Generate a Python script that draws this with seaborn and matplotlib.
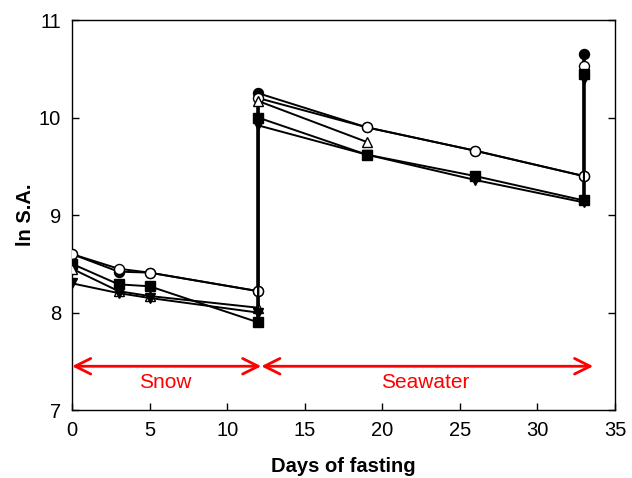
import numpy as np
import pandas as pd
import matplotlib
matplotlib.use("Agg")
import matplotlib.pyplot as plt
import seaborn as sns

# days of fasting; day 12 and 33 appear twice (before / after transfer)
days = [0, 3, 5, 12, 12, 19, 26, 33, 33]
days_tri = [0, 3, 5, 12, 12, 19]

filled_circle = [8.60, 8.42, 8.41, 8.22, 10.25, 9.90, 9.66, 9.40, 10.65]
open_circle = [8.60, 8.45, 8.41, 8.22, 10.20, 9.90, 9.66, 9.40, 10.53]
filled_square = [8.50, 8.29, 8.27, 7.90, 10.00, 9.62, 9.40, 9.15, 10.45]
open_triangle = [8.45, 8.22, 8.17, 8.05, 10.17, 9.75]
filled_tri_down = [8.30, 8.20, 8.15, 8.00, 9.92, 9.62, 9.36, 9.13, 10.40]

sns.set_theme(style="ticks")
plt.rcParams['font.family'] = ['Liberation Sans', 'DejaVu Sans']
plt.rcParams['text.color'] = 'black'
plt.rcParams['axes.labelcolor'] = 'black'

fig = plt.figure(figsize=(6.32, 4.78), dpi=100)
ax = fig.add_axes([0.114, 0.142, 0.859, 0.816])

series = [
    (days, filled_circle, 'o', 'black'),
    (days, open_circle, 'o', 'white'),
    (days, filled_square, 's', 'black'),
    (days_tri, open_triangle, '^', 'white'),
    (days, filled_tri_down, 'v', 'black'),
]

# thick vertical jumps at transfer days
for d in [12, 33]:
    vals = []
    for x, y, m, fc in series:
        vals += [v for xx, v in zip(x, y) if xx == d]
    ax.vlines(d, min(vals), max(vals), color='black', lw=2.6, zorder=2)

for x, y, m, fc in series:
    sns.lineplot(x=x, y=y, sort=False, estimator=None, ax=ax, color='black', lw=1.4,
                 marker=m, markersize=7.2, markerfacecolor=fc,
                 markeredgecolor='black', markeredgewidth=1.0, zorder=3)

# arrows for the two periods
arrow_y = 7.45
arrow_kw = dict(arrowstyle='<->', color='red', lw=2, mutation_scale=28,
                shrinkA=0, shrinkB=0)
ax.annotate('', xy=(0, arrow_y), xytext=(12.2, arrow_y), arrowprops=arrow_kw)
ax.annotate('', xy=(12.2, arrow_y), xytext=(33.6, arrow_y), arrowprops=arrow_kw)
ax.text(6.0, 7.28, 'Snow', color='red', fontsize=15, ha='center', va='center')
ax.text(22.8, 7.28, 'Seawater', color='red', fontsize=15, ha='center', va='center')

ax.set_xlim(0, 35)
ax.set_ylim(7, 11)
ax.set_xticks([0, 5, 10, 15, 20, 25, 30, 35])
ax.set_yticks([7, 8, 9, 10, 11])
ax.tick_params(direction='in', right=True, top=False, labelsize=14.5, length=5,
               width=1, colors='black', pad=8)
for s in ax.spines.values():
    s.set_visible(True)
    s.set_color('black')
    s.set_linewidth(1)
ax.set_xlabel('Days of fasting', fontsize=14.5, fontweight='bold', labelpad=12)
ax.set_ylabel('ln S.A.', fontsize=14.5, fontweight='bold', labelpad=3)

fig.savefig('out.png', dpi=100)
